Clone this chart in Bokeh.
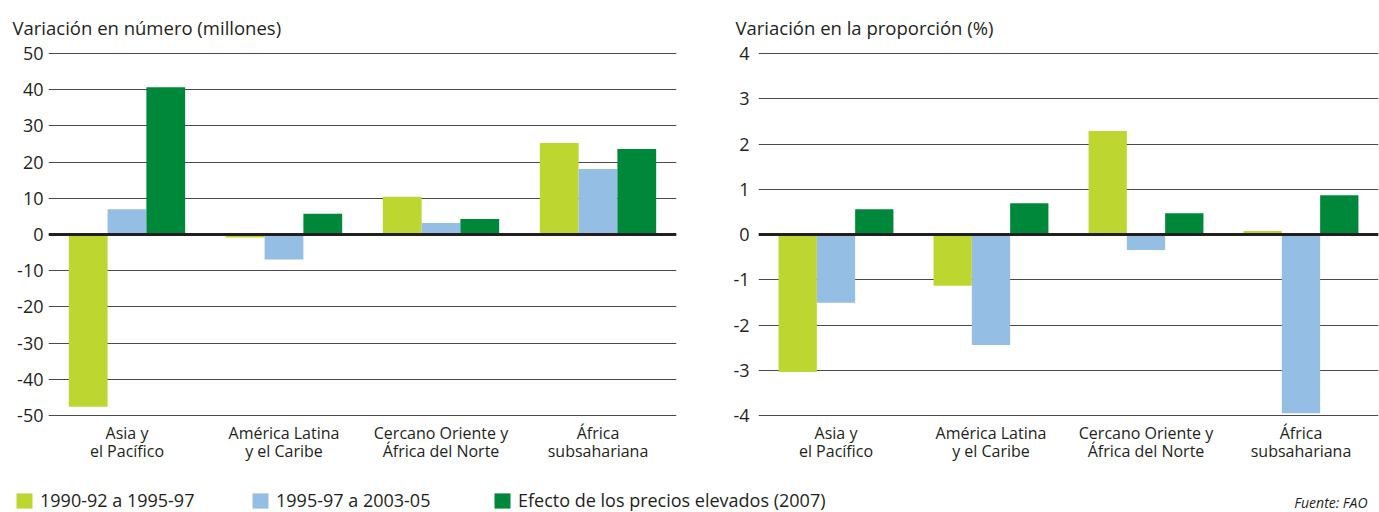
from bokeh.plotting import figure
from bokeh.models import (FactorRange, Range1d, Span, Legend, LegendItem, Label,
                          ColumnDataSource, FixedTicker)
from bokeh.layouts import column, row
from bokeh.transform import dodge
from bokeh.embed import file_html
from bokeh.resources import INLINE

# ---------------- data ----------------
regions = ["Asia y\nel Pacífico", "América Latina\ny el Caribe",
           "Cercano Oriente y\nÁfrica del Norte", "África\nsubsahariana"]
series = ["1990-92 a 1995-97", "1995-97 a 2003-05",
          "Efecto de los precios elevados (2007)"]
colors = ["#bed630", "#95bee5", "#00883a"]

num_9092 = [-47.6, -0.8, 10.4, 25.3]
num_9597 = [7.0, -6.9, 3.2, 18.1]
num_2007 = [40.7, 5.7, 4.3, 23.6]

pct_9092 = [-3.04, -1.13, 2.29, 0.08]
pct_9597 = [-1.51, -2.44, -0.34, -3.95]
pct_2007 = [0.56, 0.69, 0.47, 0.87]

num_ticks = [-50, -40, -30, -20, -10, 0, 10, 20, 30, 40, 50]
pct_ticks = [-4, -3, -2, -1, 0, 1, 2, 3, 4]

FONT = "Open Sans"
TXT = "#231f20"
BW = 0.247
FRAME_H = 364


def panel(title, vals, ticks, frame_w, bl, br, title_offset, standoff):
    src = ColumnDataSource(dict(region=regions, a=vals[0], b=vals[1], c=vals[2]))
    span = ticks[-1] - ticks[0]
    pad = span / (FRAME_H - 2)
    p = figure(x_range=FactorRange(*regions),
               y_range=Range1d(ticks[0] - pad, ticks[-1] + pad),
               frame_width=frame_w, frame_height=FRAME_H,
               output_backend="svg", toolbar_location=None,
               min_border_left=bl, min_border_right=br,
               min_border_top=51, min_border_bottom=45,
               outline_line_color=None)
    for off, key, col in zip([-BW, 0, BW], ["a", "b", "c"], colors):
        p.vbar(x=dodge("region", off, range=p.x_range), top=key, width=BW,
               source=src, fill_color=col, line_color=None)
    p.title.text = title
    p.title.align = "left"
    p.title.offset = title_offset
    p.title.text_font = FONT
    p.title.text_font_size = "18.5px"
    p.title.text_font_style = "normal"
    p.title.text_color = TXT
    p.title.standoff = 25

    p.xgrid.visible = False
    p.ygrid.ticker = FixedTicker(ticks=ticks)
    p.ygrid.grid_line_color = "#4a4a4a"
    p.ygrid.grid_line_width = 1.2

    p.yaxis.ticker = FixedTicker(ticks=ticks)
    p.yaxis.major_label_overrides = {t: str(t) for t in ticks}
    p.yaxis.axis_line_color = None
    p.yaxis.major_tick_line_color = None
    p.yaxis.major_tick_out = 0
    p.yaxis.major_tick_in = 0
    p.yaxis.minor_tick_line_color = None
    p.yaxis.major_label_standoff = standoff
    p.yaxis.major_label_text_font = FONT
    p.yaxis.major_label_text_font_size = "18px"
    p.yaxis.major_label_text_color = TXT

    p.xaxis.axis_line_color = None
    p.xaxis.major_tick_line_color = None
    p.xaxis.major_tick_out = 0
    p.xaxis.major_tick_in = 0
    p.xaxis.major_label_standoff = 5
    p.xaxis.major_label_text_font = FONT
    p.xaxis.major_label_text_font_size = "16px"
    p.xaxis.major_label_text_line_height = 0.83
    p.xaxis.major_label_text_color = TXT

    p.add_layout(Span(location=0, dimension="width", line_color=TXT, line_width=3))
    return p


p1 = panel("Variación en número (millones)", [num_9092, num_9597, num_2007],
           num_ticks, 628, 48, 24, -36, 5)
p2 = panel("Variación en la proporción (%)", [pct_9092, pct_9597, pct_2007],
           pct_ticks, 620, 58, 1, -23, 9)

# ---------------- legend strip ----------------
lg = figure(width=1379, height=52, output_backend="svg", toolbar_location=None,
            x_range=Range1d(0, 1), y_range=Range1d(0, 1),
            min_border=0, outline_line_color=None)
lg.axis.visible = False
lg.grid.visible = False
# placeholder renderers (outside the visible range) that only feed the legend
lsrc = ColumnDataSource(dict(x=[-5.0], top=[-5.0]))
for name, col, xpos in zip(series, colors, [14, 250, 492]):
    r = lg.vbar(x="x", top="top", bottom=-6.0, width=0.1, source=lsrc,
                fill_color=col, line_color=None)
    leg = Legend(items=[LegendItem(label=name, renderers=[r])],
                 location=(xpos, 4), orientation="horizontal",
                 padding=0, margin=0, border_line_alpha=0,
                 background_fill_alpha=0, glyph_width=20, glyph_height=19,
                 label_height=19, label_standoff=6,
                 label_text_font=FONT, label_text_font_size="18px",
                 label_text_color=TXT)
    lg.add_layout(leg)

lg.add_layout(Label(x=1367, y=14, x_units="screen", y_units="screen",
                    text="Fuente: FAO", text_align="right",
                    text_baseline="middle", text_font=FONT,
                    text_font_size="14px", text_font_style="italic",
                    text_color=TXT))

layout = column(row(p1, p2), lg)
open("out.html", "w").write(file_html(layout, INLINE))
